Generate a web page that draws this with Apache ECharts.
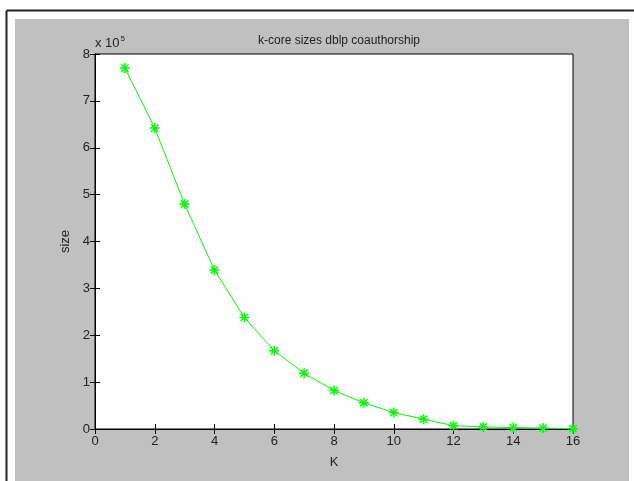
<!DOCTYPE html>
<html><head><meta charset="utf-8">
<script src="https://cdn.jsdelivr.net/npm/echarts@6/dist/echarts.min.js"></script>
<style>html,body{margin:0;padding:0;background:#fff}#c{width:634px;height:481px}</style>
</head><body><div id="c"></div>
<script>
const kValues = [1,2,3,4,5,6,7,8,9,10,11,12,13,14,15,16];
const sizes = [7.70,6.42,4.80,3.39,2.38,1.67,1.19,0.82,0.56,0.35,0.21,0.07,0.045,0.03,0.02,0.008];
const xTicks = [0,2,4,6,8,10,12,14,16];
const yTicks = [0,1,2,3,4,5,6,7,8];
const titleText = 'k-core sizes dblp coauthorship';

const font = 'Liberation Sans, Arial, sans-serif';
const chart = echarts.init(document.getElementById('c'));
const star = 'path://M0,-5L0,5M-5,0L5,0M-3.6,-3.6L3.6,3.6M-3.6,3.6L3.6,-3.6';
const tick = {show:true, inside:true, length:5, lineStyle:{color:'#000', width:1}};
chart.setOption({
  animation:false,
  backgroundColor:'#fff',
  graphic:[
    {type:'line', shape:{x1:6.5,y1:10.5,x2:634,y2:10.5}, style:{stroke:'#222',lineWidth:2}, z:-10},
    {type:'line', shape:{x1:6.5,y1:10.5,x2:6.5,y2:481}, style:{stroke:'#222',lineWidth:2}, z:-10},
    {type:'rect', shape:{x:15,y:19,width:614,height:462}, style:{fill:'#c0c0c0'}, z:-10},
    {type:'text', left:95, top:35, style:{text:'{a|x 10}{b|5}', rich:{a:{fontSize:13,fontFamily:font,fill:'#222'}, b:{fontSize:8,fontFamily:font,fill:'#222',verticalAlign:'top',padding:[0,0,9,1]}}}}
  ],
  title:{text:titleText, left:334, textAlign:'center', top:30, textStyle:{fontSize:12, fontWeight:'normal', fontFamily:font, color:'#222'}},
  grid:{left:95, right:61, top:54, bottom:52, show:true, backgroundColor:'#fff', borderColor:'#000', borderWidth:1},
  xAxis:[
    {type:'value', min:0, max:16, interval:2, position:'bottom', name:'K', nameLocation:'middle', nameGap:27,
     nameTextStyle:{fontSize:13, fontFamily:font, color:'#222'},
     axisLine:{show:true, lineStyle:{color:'#000'}}, axisTick:tick, splitLine:{show:false},
     axisLabel:{fontSize:13, fontFamily:font, color:'#222', margin:6}},
    {type:'value', min:0, max:16, interval:2, position:'top', axisLine:{show:true, lineStyle:{color:'#000'}}, axisTick:tick, axisLabel:{show:false}, splitLine:{show:false}}
  ],
  yAxis:[
    {type:'value', min:0, max:8, interval:1, position:'left', name:'size', nameLocation:'middle', nameGap:22,
     nameTextStyle:{fontSize:13, fontFamily:font, color:'#222'},
     axisLine:{show:true, lineStyle:{color:'#000'}}, axisTick:tick, splitLine:{show:false},
     axisLabel:{fontSize:13, fontFamily:font, color:'#222', margin:5}},
    {type:'value', min:0, max:8, interval:1, position:'right', axisLine:{show:true, lineStyle:{color:'#000'}}, axisTick:tick, axisLabel:{show:false}, splitLine:{show:false}}
  ],
  series:[{
    type:'line', data:kValues.map((k,i)=>[k,sizes[i]]), xAxisIndex:0, yAxisIndex:0,
    symbol:star, symbolSize:10, showSymbol:true,
    lineStyle:{color:'#00ff00', width:1},
    itemStyle:{color:'#00ff00', borderColor:'#00ff00', borderWidth:1.5},
    clip:false
  }]
});
</script></body></html>
